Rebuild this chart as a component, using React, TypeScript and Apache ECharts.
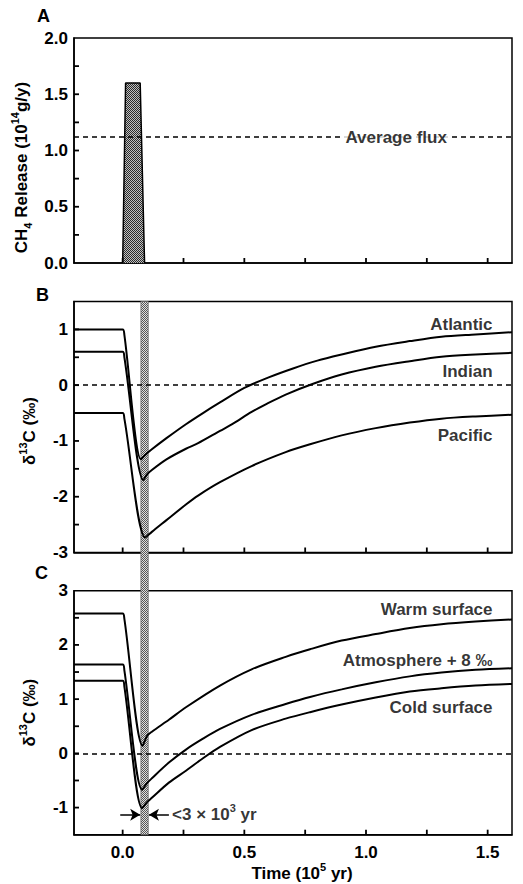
import React, { useEffect, useRef } from 'react';
import * as echarts from 'echarts';

const FONT = '"Liberation Sans", Arial, Helvetica, sans-serif';
const FS = 17;

// ---- axes ----
const xRange = [-0.2, 1.6];
const xTickValues = [0, 0.25, 0.5, 0.75, 1.0, 1.25, 1.5];
const xLabelValues = [0, 0.5, 1.0, 1.5];
const yRangeA = [0, 2];
const yTicksA = [0.25, 0.5, 0.75, 1.0, 1.25, 1.5, 1.75];
const yLabelsA = [0, 0.5, 1.0, 1.5, 2.0];
const yRangeB = [-3, 1.5];
const yTicksB = [-2.5, -2, -1.5, -1, -0.5, 0, 0.5, 1];
const yLabelsB = [-3, -2, -1, 0, 1];
const yRangeC = [-1.5, 3];
const yTicksC = [-1, -0.5, 0, 0.5, 1, 1.5, 2, 2.5];
const yLabelsC = [-1, 0, 1, 2, 3];

// ---- panel A ----
const releasePulse = [[0, 0], [0.012, 1.6], [0.072, 1.6], [0.09, 0]];
const averageFlux = 1.12;
const averageFluxLabelX = 1.124;

// ---- shaded release window ----
const releaseWindow = [0.075, 0.105];

// ---- panel B (deep ocean d13C) ----
const atlantic = [
  [-0.2, 1.0], [0.0, 1.0], [0.007, 0.9], [0.075, -1.33], [0.09, -1.26], [0.12, -1.15],
  [0.18, -0.95], [0.26, -0.7], [0.33, -0.5], [0.4, -0.31], [0.5, -0.05], [0.6, 0.14],
  [0.7, 0.3], [0.8, 0.44], [0.9, 0.55], [1.04, 0.69], [1.18, 0.79], [1.31, 0.87],
  [1.45, 0.91], [1.6, 0.95],
];
const indian = [
  [-0.2, 0.6], [0.0, 0.6], [0.007, 0.5], [0.085, -1.7], [0.1, -1.6], [0.12, -1.52],
  [0.18, -1.33], [0.26, -1.14], [0.31, -1.04], [0.4, -0.82], [0.45, -0.7], [0.53, -0.48],
  [0.59, -0.34], [0.67, -0.17], [0.78, 0.02], [0.9, 0.19], [1.04, 0.33], [1.18, 0.43],
  [1.31, 0.51], [1.45, 0.55], [1.6, 0.58],
];
const pacific = [
  [-0.2, -0.5], [0.0, -0.5], [0.007, -0.6], [0.093, -2.73], [0.12, -2.63], [0.18, -2.42],
  [0.26, -2.14], [0.31, -1.98], [0.4, -1.74], [0.53, -1.45], [0.67, -1.2], [0.77, -1.06],
  [0.9, -0.9], [1.04, -0.77], [1.18, -0.67], [1.31, -0.6], [1.45, -0.56], [1.6, -0.53],
];

// ---- panel C (surface / atmosphere d13C) ----
const warmSurface = [
  [-0.2, 2.58], [0.0, 2.58], [0.007, 2.48], [0.082, 0.14], [0.1, 0.32], [0.12, 0.4],
  [0.19, 0.62], [0.26, 0.85], [0.4, 1.25], [0.53, 1.55], [0.67, 1.78], [0.77, 1.92],
  [0.9, 2.08], [1.04, 2.2], [1.18, 2.31], [1.31, 2.38], [1.45, 2.43], [1.6, 2.47],
];
const atmosphere = [
  [-0.2, 1.64], [0.0, 1.64], [0.007, 1.53], [0.08, -0.67], [0.1, -0.55], [0.12, -0.46],
  [0.19, -0.17], [0.26, 0.07], [0.33, 0.27], [0.4, 0.45], [0.53, 0.71], [0.67, 0.91],
  [0.77, 1.04], [0.9, 1.18], [1.04, 1.31], [1.18, 1.42], [1.31, 1.49], [1.45, 1.54], [1.6, 1.57],
];
const coldSurface = [
  [-0.2, 1.34], [0.0, 1.34], [0.007, 1.23], [0.08, -1.01], [0.1, -0.9], [0.12, -0.82],
  [0.19, -0.54], [0.26, -0.32], [0.33, -0.09], [0.4, 0.12], [0.53, 0.43], [0.67, 0.64],
  [0.77, 0.76], [0.9, 0.9], [1.04, 1.03], [1.18, 1.14], [1.31, 1.2], [1.45, 1.25], [1.6, 1.28],
];

// ---- curve labels ----
const labelsB = [
  { name: 'Atlantic', value: [1.52, 1.09] },
  { name: 'Indian', value: [1.52, 0.25] },
  { name: 'Pacific', value: [1.52, -0.91] },
];
const labelsC = [
  { name: 'Warm surface', value: [1.52, 2.645] },
  { name: 'Atmosphere + 8 ‰', value: [1.52, 1.72] },
  { name: 'Cold surface', value: [1.52, 0.85] },
];
const arrowY = -1.13;
const arrowLeft = [-0.01, 0.072];
const arrowRight = [0.19, 0.108];
const durationLabelX = 0.203;

function stipple(dark: string, light: string) {
  const c = document.createElement('canvas');
  c.width = 2;
  c.height = 2;
  const ctx = c.getContext('2d')!;
  ctx.fillStyle = light;
  ctx.fillRect(0, 0, 2, 2);
  ctx.fillStyle = dark;
  ctx.fillRect(0, 0, 1, 1);
  ctx.fillRect(1, 1, 1, 1);
  return { image: c, repeat: 'repeat' } as any;
}

const richText = {
  n: { fontSize: FS, fontWeight: 'bold', fontFamily: FONT, color: '#000', lineHeight: 24 },
  sup: { fontSize: 11, fontWeight: 'bold', fontFamily: FONT, color: '#000', verticalAlign: 'top' },
  sub: { fontSize: 11, fontWeight: 'bold', fontFamily: FONT, color: '#000', verticalAlign: 'bottom' },
};

const GRID_LEFT = 74;
const GRID_RIGHT = 11;
const TICK_LEN = 5;
const TICK_COLOR = '#000';

function xAxisDef(gridIndex: number, showLabels: boolean, extra: any = {}) {
  return {
    type: 'value',
    gridIndex,
    min: xRange[0],
    max: xRange[1],
    axisLine: { show: true, onZero: false, lineStyle: { color: '#000', width: 1.5 } },
    axisTick: { show: false },
    axisLabel: {
      show: showLabels,
      customValues: xLabelValues,
      formatter: (v: number) => v.toFixed(1),
      fontSize: FS,
      fontWeight: 'bold',
      fontFamily: FONT,
      color: '#000',
      margin: 9,
    },
    splitLine: { show: false },
    ...extra,
  };
}

function yAxisDef(gridIndex: number, range: number[], labels: number[], digits: number, name: string, nameGap: number, padRight: number) {
  return {
    type: 'value',
    gridIndex,
    min: range[0],
    max: range[1],
    axisLine: { show: true, onZero: false, lineStyle: { color: '#000', width: 1.5 } },
    axisTick: { show: false },
    axisLabel: {
      customValues: labels,
      formatter: (v: number) => v.toFixed(digits),
      fontSize: FS,
      fontWeight: 'bold',
      fontFamily: FONT,
      color: '#000',
      margin: 6,
    },
    splitLine: { show: false },
    name,
    nameLocation: 'middle',
    nameRotate: 90,
    nameGap,
    nameTextStyle: { rich: richText, padding: [0, padRight, 0, 0] },
  };
}

// short inward ticks drawn at the axis values, through the axis scales
function xTickSeries(idx: number, yMin: number) {
  return {
    type: 'custom',
    xAxisIndex: idx,
    yAxisIndex: idx,
    data: xTickValues.map((v) => [v, yMin]),
    silent: true,
    z: 6,
    clip: false,
    renderItem: (params: any, api: any) => {
      const p = api.coord([api.value(0), api.value(1)]);
      return {
        type: 'line',
        shape: { x1: p[0], y1: p[1], x2: p[0], y2: p[1] - TICK_LEN },
        style: { stroke: TICK_COLOR, lineWidth: 1.8 },
      };
    },
  };
}

function yTickSeries(idx: number, ticks: number[]) {
  return {
    type: 'custom',
    xAxisIndex: idx,
    yAxisIndex: idx,
    data: ticks.map((v) => [xRange[0], v]),
    silent: true,
    z: 6,
    clip: false,
    renderItem: (params: any, api: any) => {
      const p = api.coord([api.value(0), api.value(1)]);
      return {
        type: 'line',
        shape: { x1: p[0], y1: p[1], x2: p[0] + TICK_LEN, y2: p[1] },
        style: { stroke: TICK_COLOR, lineWidth: 1.8 },
      };
    },
  };
}

function curve(data: number[][], idx: number) {
  return {
    type: 'line',
    xAxisIndex: idx,
    yAxisIndex: idx,
    data,
    symbol: 'none',
    smooth: 0.3,
    z: 4,
    lineStyle: { color: '#000', width: 2 },
  };
}

function zeroLine(idx: number) {
  return {
    type: 'line',
    xAxisIndex: idx,
    yAxisIndex: idx,
    data: [],
    markLine: {
      silent: true,
      symbol: 'none',
      label: { show: false },
      lineStyle: { color: '#000', width: 1.5, type: [5, 4] },
      data: [{ yAxis: 0 }],
    },
  };
}

function labelSeries(data: any[], idx: number) {
  return {
    type: 'scatter',
    xAxisIndex: idx,
    yAxisIndex: idx,
    data,
    symbolSize: 0,
    z: 5,
    label: {
      show: true,
      position: 'left',
      distance: 0,
      formatter: (p: any) => p.name,
      fontSize: FS,
      fontWeight: 'bold',
      fontFamily: FONT,
      color: '#000',
    },
  };
}

export default function App() {
  const ref = useRef<HTMLDivElement>(null);
  useEffect(() => {
    if (!ref.current) return;
    const chart = echarts.init(ref.current, undefined, { renderer: 'svg' });
    const option: any = {
      animation: false,
      backgroundColor: '#fff',
      grid: [
        { left: GRID_LEFT, right: GRID_RIGHT, top: 38, height: 225, show: true, borderColor: '#000', borderWidth: 1.5 },
        { left: GRID_LEFT, right: GRID_RIGHT, top: 301.5, height: 251, show: true, borderColor: '#000', borderWidth: 1.5 },
        { left: GRID_LEFT, right: GRID_RIGHT, top: 590.7, height: 244, show: true, borderColor: '#000', borderWidth: 1.5 },
      ],
      xAxis: [
        xAxisDef(0, false),
        xAxisDef(1, false),
        xAxisDef(2, true, {
          name: '{n|Time (10}{sup|5}{n| yr)}',
          nameLocation: 'middle',
          nameGap: 25,
          nameTextStyle: { rich: richText, padding: [0, 0, 0, 18] },
        }),
      ],
      yAxis: [
        yAxisDef(0, yRangeA, yLabelsA, 1, '{n|CH}{sub|4}{n| Release (10}{sup|14}{n|g/y)}', 30, 34),
        yAxisDef(1, yRangeB, yLabelsB, 0, '{n|δ}{sup|13}{n|C (‰)}', 33, 8),
        yAxisDef(2, yRangeC, yLabelsC, 0, '{n|δ}{sup|13}{n|C (‰)}', 33, 0),
      ],
      series: [
        {
          type: 'line',
          xAxisIndex: 0,
          yAxisIndex: 0,
          data: releasePulse,
          symbol: 'none',
          lineStyle: { color: '#000', width: 1.5 },
          areaStyle: { color: stipple('#2a2a2a', '#c0c0c0'), opacity: 1 },
          z: 3,
          markLine: {
            silent: true,
            symbol: 'none',
            label: { show: false },
            lineStyle: { color: '#000', width: 1.5, type: [5, 4] },
            data: [{ yAxis: averageFlux }],
          },
        },
        {
          type: 'scatter',
          xAxisIndex: 0,
          yAxisIndex: 0,
          data: [{ name: 'Average flux', value: [averageFluxLabelX, averageFlux] }],
          symbolSize: 0,
          z: 5,
          label: {
            show: true,
            position: 'inside',
            formatter: (p: any) => p.name,
            backgroundColor: '#fff',
            padding: [1, 2],
            fontSize: FS,
            fontWeight: 'bold',
            fontFamily: FONT,
            color: '#000',
          },
        },
        xTickSeries(0, yRangeA[0]),
        yTickSeries(0, yTicksA),
        zeroLine(1),
        curve(atlantic, 1),
        curve(indian, 1),
        curve(pacific, 1),
        labelSeries(labelsB, 1),
        xTickSeries(1, yRangeB[0]),
        yTickSeries(1, yTicksB),
        zeroLine(2),
        curve(warmSurface, 2),
        curve(atmosphere, 2),
        curve(coldSurface, 2),
        labelSeries(labelsC, 2),
        xTickSeries(2, yRangeC[0]),
        yTickSeries(2, yTicksC),
        {
          type: 'scatter',
          xAxisIndex: 2,
          yAxisIndex: 2,
          data: [{ name: 'dur', value: [durationLabelX, arrowY] }],
          symbolSize: 0,
          z: 5,
          label: {
            show: true,
            position: 'right',
            distance: 0,
            formatter: () => '{n|<3 × 10}{sup|3}{n| yr}',
            rich: richText,
          },
          markLine: {
            silent: true,
            symbol: ['none', 'arrow'],
            symbolSize: [9, 10],
            label: { show: false },
            lineStyle: { color: '#000', width: 1.5, type: 'solid' },
            data: [
              [{ coord: [arrowLeft[0], arrowY] }, { coord: [arrowLeft[1], arrowY] }],
              [{ coord: [arrowRight[0], arrowY] }, { coord: [arrowRight[1], arrowY] }],
            ],
          },
        },
      ],
    };
    chart.setOption(option);

    const pTop = chart.convertToPixel({ xAxisIndex: 1, yAxisIndex: 1 } as any, [releaseWindow[0], yRangeB[1]]) as number[];
    const pBot = chart.convertToPixel({ xAxisIndex: 2, yAxisIndex: 2 } as any, [releaseWindow[1], yRangeC[0]]) as number[];
    const letterStyle = { fontSize: 18, fontWeight: 'bold', fontFamily: FONT, fill: '#000' };
    chart.setOption({
      graphic: [
        {
          type: 'rect',
          z: 1,
          shape: { x: pTop[0], y: pTop[1], width: pBot[0] - pTop[0], height: pBot[1] - pTop[1] },
          style: { fill: stipple('#555', '#e0e0e0'), stroke: '#666', lineWidth: 0.8 },
        },
        { type: 'text', left: 37, top: 7, style: { text: 'A', ...letterStyle } },
        { type: 'text', left: 36, top: 286, style: { text: 'B', ...letterStyle } },
        { type: 'text', left: 35, top: 564, style: { text: 'C', ...letterStyle } },
      ],
    });
    return () => chart.dispose();
  }, []);
  return <div ref={ref} style={{ position: 'fixed', left: 0, top: 0, width: 523, height: 884, background: '#fff' }} />;
}
